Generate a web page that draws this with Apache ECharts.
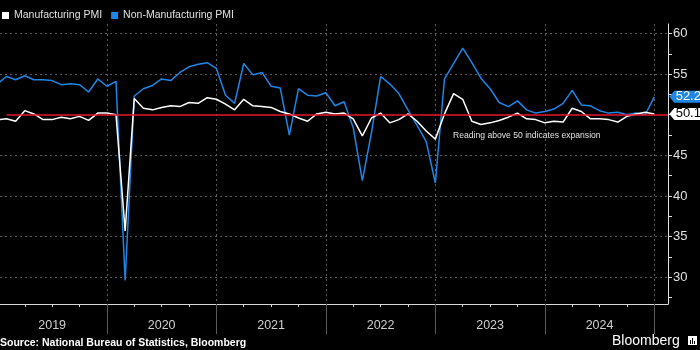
<!DOCTYPE html>
<html>
<head>
<meta charset="utf-8">
<script src="https://cdn.jsdelivr.net/npm/echarts@6/dist/echarts.min.js"></script>
<style>
  html, body { margin: 0; padding: 0; background: #000; }
  #chart { width: 700px; height: 350px; }
</style>
</head>
<body>
<div id="chart"></div>
<script>
// monthly PMI readings, index 0 = Dec 2018 ... index 72 = Dec 2024
const manufacturing = [
  49.4,
  49.5, 49.2, 50.5, 50.1, 49.4, 49.4, 49.7, 49.5, 49.8, 49.3, 50.2, 50.2,
  50.0, 35.7, 52.0, 50.8, 50.6, 50.9, 51.1, 51.0, 51.5, 51.4, 52.1, 51.9,
  51.3, 50.6, 51.9, 51.1, 51.0, 50.9, 50.4, 50.1, 49.6, 49.2, 50.1, 50.3,
  50.1, 50.2, 49.5, 47.4, 49.6, 50.2, 49.0, 49.4, 50.1, 49.2, 48.0, 47.0,
  50.1, 52.6, 51.9, 49.2, 48.8, 49.0, 49.3, 49.7, 50.2, 49.5, 49.4, 49.0,
  49.2, 49.1, 50.8, 50.4, 49.5, 49.5, 49.4, 49.1, 49.8, 50.1, 50.3, 50.1
];
const nonManufacturing = [
  53.8,
  54.7, 54.3, 54.8, 54.3, 54.3, 54.2, 53.7, 53.8, 53.7, 52.8, 54.4, 53.5,
  54.1, 29.6, 52.3, 53.2, 53.6, 54.4, 54.2, 55.2, 55.9, 56.2, 56.4, 55.7,
  52.4, 51.4, 56.3, 54.9, 55.2, 53.5, 53.3, 47.5, 53.2, 52.4, 52.3, 52.7,
  51.1, 51.6, 48.4, 41.9, 47.8, 54.7, 53.8, 52.6, 50.6, 48.7, 46.7, 41.6,
  54.4, 56.3, 58.2, 56.4, 54.5, 53.2, 51.5, 51.0, 51.7, 50.6, 50.2, 50.4,
  50.7, 51.4, 53.0, 51.2, 51.1, 50.5, 50.2, 50.3, 50.0, 50.2, 50.0, 52.2
];
const years = ['2019', '2020', '2021', '2022', '2023', '2024'];
const yLabels = [30, 35, 40, 45, 50, 55, 60];
const yGrid = [30, 35, 40, 45, 55, 60];
const threshold = 50;

const font = 'Liberation Sans, Arial, sans-serif';
const xMin = 0.285, xMax = 73.5;
const yMin = 26.72, yMax = 61.16;

// tick positions on the month index axis
const quarterTicks = [], yearTicks = [], yearMids = [];
for (let i = 1; i <= years.length * 12; i++) {
  if (i % 12 === 0) yearTicks.push(i);
  else if (i % 3 === 0) quarterTicks.push(i);
}
years.forEach((y, k) => yearMids.push(k * 12 + 6));
const yMinor = [];
for (let v = 27.5; v <= 60; v += 2.5) yMinor.push(v);

const toPoints = arr => arr.map((v, i) => [i, v]);

function endTag(arr, bg, fg) {
  const n = arr.length - 1;
  return {
    silent: true,
    symbol: 'path://M0,6 L5,0 L34,0 L34,12 L5,12 Z',
    symbolSize: [34, 12],
    symbolOffset: [32, 0],
    symbolKeepAspect: false,
    itemStyle: { color: bg },
    label: {
      show: true, position: 'inside', offset: [2, 0],
      color: fg, fontSize: 13, fontFamily: font,
      formatter: p => p.value.toFixed(1)
    },
    data: [{ coord: [n, arr[n]], value: arr[n] }]
  };
}

const chart = echarts.init(document.getElementById('chart'));
const option = {
  backgroundColor: '#000',
  animation: false,
  legend: {
    left: 2, top: 10, padding: 0,
    icon: 'rect', itemWidth: 7, itemHeight: 7, itemGap: 9,
    textStyle: { color: '#e0e0e0', fontSize: 10.5, fontFamily: font },
    data: ['Manufacturing PMI', 'Non-Manufacturing PMI']
  },
  grid: { left: 0, right: 32, top: 24, bottom: 46 },
  xAxis: [
    {
      type: 'value', min: xMin, max: xMax,
      axisLine: { show: true, lineStyle: { color: '#d8d8d8', width: 1 } },
      axisTick: { show: true, customValues: quarterTicks, length: 3, lineStyle: { color: '#d8d8d8' } },
      axisLabel: {
        customValues: yearMids, color: '#d0d0d0', fontSize: 12.5, fontFamily: font, margin: 15,
        formatter: v => years[Math.round((v - 6) / 12)]
      },
      splitLine: { show: false }
    },
    {
      type: 'value', min: xMin, max: xMax, position: 'bottom',
      axisLine: { show: false },
      axisTick: { show: true, customValues: yearTicks, length: 30, lineStyle: { color: '#5a5a5a' } },
      axisLabel: { show: false },
      splitLine: { show: true, lineStyle: { color: '#5a5a5a', type: [2, 3], width: 1 } }
    }
  ],
  yAxis: [
    {
      type: 'value', position: 'right', min: yMin, max: yMax,
      axisLine: { show: true, lineStyle: { color: '#e0e0e0', width: 1 } },
      axisTick: { show: true, customValues: yMinor, length: 4, lineStyle: { color: '#e0e0e0' } },
      axisLabel: { customValues: yLabels, color: '#e0e0e0', fontSize: 13, fontFamily: font, margin: 5 },
      splitLine: { show: false }
    },
    {
      type: 'value', position: 'right', min: yMin, max: yMax,
      axisLine: { show: false },
      axisTick: { show: false, customValues: yGrid },
      axisLabel: { show: false },
      splitLine: { show: true, lineStyle: { color: '#5a5a5a', type: [2, 3], width: 1 } }
    }
  ],
  series: [
    {
      name: 'Non-Manufacturing PMI', type: 'line',
      data: toPoints(nonManufacturing),
      showSymbol: false, symbol: 'none',
      color: '#1f86e6',
      lineStyle: { color: '#1f86e6', width: 1.5 },
      markPoint: endTag(nonManufacturing, '#1f86e6', '#fff')
    },
    {
      name: 'Manufacturing PMI', type: 'line',
      data: toPoints(manufacturing),
      showSymbol: false, symbol: 'none',
      color: '#ffffff',
      lineStyle: { color: '#ffffff', width: 1.5 },
      markPoint: endTag(manufacturing, '#ffffff', '#000'),
      markLine: {
        silent: true, symbol: 'none',
        label: { show: false },
        lineStyle: { color: '#e8162c', width: 1.5, type: 'solid' },
        data: [[{ coord: [1, threshold] }, { coord: [xMax, threshold] }]]
      }
    }
  ],
  graphic: [
    {
      type: 'text', silent: true,
      style: {
        x: 453, y: 136, text: 'Reading above 50 indicates expansion',
        fill: '#e0e0e0', font: '8.6px ' + font, verticalAlign: 'middle'
      }
    },
    {
      type: 'text', silent: true,
      style: {
        x: 0, y: 343, text: 'Source: National Bureau of Statistics, Bloomberg',
        fill: '#ffffff', font: 'bold 10.5px ' + font, verticalAlign: 'middle'
      }
    },
    {
      type: 'text', silent: true,
      style: {
        x: 612, y: 341, text: 'Bloomberg',
        fill: '#ffffff', font: '14px ' + font, verticalAlign: 'middle'
      }
    },
    {
      type: 'group', silent: true, x: 688, y: 336,
      children: [
        { type: 'rect', shape: { x: 0, y: 0, width: 9, height: 9 }, style: { fill: '#fff' } },
        { type: 'rect', shape: { x: 2, y: 4, width: 1, height: 4 }, style: { fill: '#000' } },
        { type: 'rect', shape: { x: 4, y: 2, width: 1, height: 6 }, style: { fill: '#000' } },
        { type: 'rect', shape: { x: 6, y: 5, width: 1, height: 3 }, style: { fill: '#000' } }
      ]
    }
  ]
};
chart.setOption(option);
</script>
</body>
</html>
